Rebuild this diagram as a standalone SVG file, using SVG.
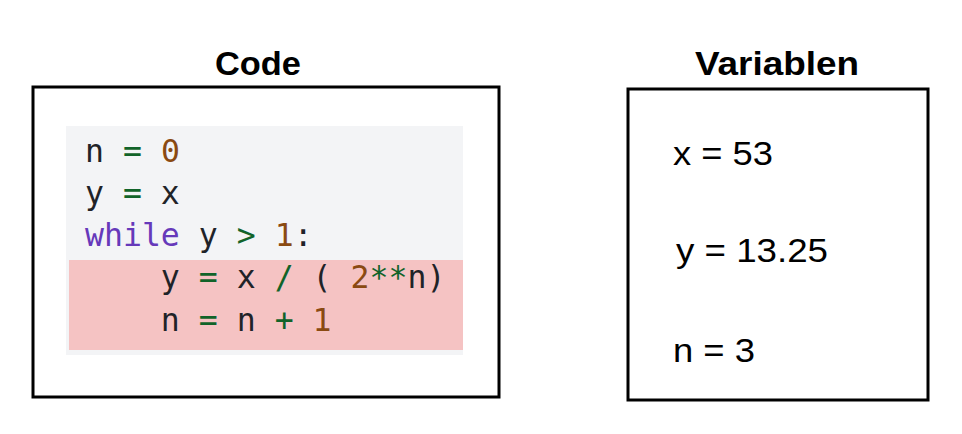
<svg xmlns="http://www.w3.org/2000/svg" width="962" height="434" viewBox="0 0 962 434">
<style>
.title{font-family:"Liberation Sans",Arial,sans-serif;font-weight:bold;font-size:34px;fill:#000}
.box{fill:none;stroke:#000;stroke-width:3}
.code{font-family:"DejaVu Sans Mono",monospace;font-size:31.5px;fill:#1f2328;white-space:pre}
.op{fill:#116329}
.num{fill:#8a4a12}
.kw{fill:#6639ba}
.var{font-family:"Liberation Sans",Arial,sans-serif;font-size:33px;fill:#000}
</style>
<rect width="962" height="434" fill="#fff"/>
<g id="code">
<text class="title" x="215" y="75" textLength="86" lengthAdjust="spacingAndGlyphs">Code</text>
<rect class="box" x="33" y="87" width="466" height="310"/>
<rect x="66" y="126" width="397" height="229" fill="#f3f4f6"/>
<rect x="69" y="260" width="394" height="90" fill="#f5c3c3"/>
<text class="code" x="85" y="162" xml:space="preserve">n <tspan class="op">=</tspan> <tspan class="num">0</tspan></text>
<text class="code" x="85" y="204" xml:space="preserve">y <tspan class="op">=</tspan> x</text>
<text class="code" x="85" y="246" xml:space="preserve"><tspan class="kw">while</tspan> y <tspan class="op">&gt;</tspan> <tspan class="num">1</tspan>:</text>
<text class="code" x="85" y="288" xml:space="preserve">    y <tspan class="op">=</tspan> x <tspan class="op">/</tspan> ( <tspan class="num">2</tspan><tspan class="op">**</tspan>n)</text>
<text class="code" x="85" y="331" xml:space="preserve">    n <tspan class="op">=</tspan> n <tspan class="op">+</tspan> <tspan class="num">1</tspan></text>
</g>
<g id="variablen">
<text class="title" x="695" y="75" textLength="164" lengthAdjust="spacingAndGlyphs">Variablen</text>
<rect class="box" x="628" y="89" width="300" height="311"/>
<text class="var" x="673" y="165" textLength="100" lengthAdjust="spacingAndGlyphs">x = 53</text>
<text class="var" x="676" y="262" textLength="152" lengthAdjust="spacingAndGlyphs">y = 13.25</text>
<text class="var" x="673" y="362" textLength="82" lengthAdjust="spacingAndGlyphs">n = 3</text>
</g>
<g id="connectors"></g>
</svg>
